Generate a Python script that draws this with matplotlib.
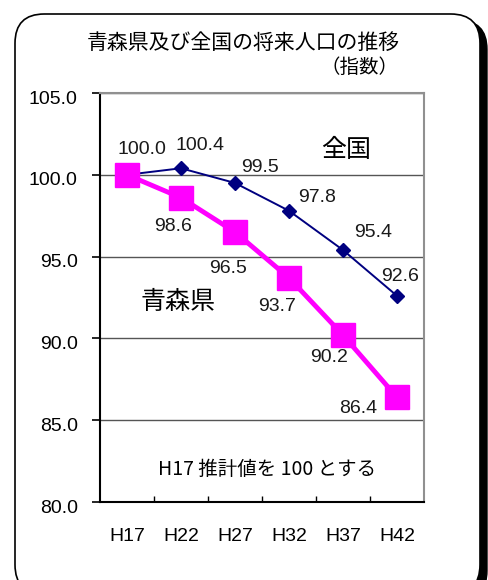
import matplotlib.pyplot as plt
from matplotlib.patches import FancyBboxPatch
from matplotlib.transforms import ScaledTranslation

plt.rcParams['font.family'] = ['Liberation Sans', 'Noto Sans CJK JP']
JP = ['Noto Sans CJK JP', 'Liberation Sans']

# データ
years = ['H17', 'H22', 'H27', 'H32', 'H37', 'H42']
zenkoku = [100.0, 100.4, 99.5, 97.8, 95.4, 92.6]
aomori = [100.0, 98.6, 96.5, 93.7, 90.2, 86.4]

# ラベル位置（ピクセル単位のずらし）
zenkoku_off = [(15, 25), (19, 23), (25, 15), (28, 13), (30, 18), (3, 19)]
aomori_off = [None, (-8, -29), (-7, -36), (-12, -29), (-14, -22), (-39, -11)]

fig = plt.figure(figsize=(4.88, 5.8), dpi=100)

# 角丸の枠と影
W, H = 488, 580
shadow = FancyBboxPatch((22 / W, -20 / H), 465 / W, 580 / H,
                        boxstyle='round,pad=0,rounding_size=0.06',
                        transform=fig.transFigure, facecolor='black',
                        edgecolor='black', zorder=-2, mutation_aspect=W / H)
box = FancyBboxPatch((15 / W, -14 / H), 465 / W, 580 / H,
                     boxstyle='round,pad=0,rounding_size=0.06',
                     transform=fig.transFigure, facecolor='white',
                     edgecolor='black', linewidth=1.2, zorder=-1,
                     mutation_aspect=W / H)
fig.patches.extend([shadow, box])

ax = fig.add_axes([100 / W, 1 - 502 / H, 324 / W, 409 / H])
ax.set_zorder(2)
ax.set_facecolor('none')
x = list(range(len(years)))

ax.plot(x, zenkoku, color='#000080', linewidth=1.4, marker='D',
        markersize=7, zorder=3)
ax.plot(x, aomori, color='#FF00FF', linewidth=3.5, marker='s',
        markersize=17, zorder=4)

for i, v in enumerate(zenkoku):
    ax.annotate(f'{v:.1f}', (i, v), xytext=zenkoku_off[i],
                textcoords='offset pixels', ha='center', va='center',
                fontsize=14, color='#1a1a1a')
for i, v in enumerate(aomori):
    if aomori_off[i] is None:
        continue
    ax.annotate(f'{v:.1f}', (i, v), xytext=aomori_off[i],
                textcoords='offset pixels', ha='center', va='center',
                fontsize=14, color='#1a1a1a')

ax.set_xlim(-0.5, 5.5)
ax.set_ylim(80, 105)
ax.set_xticks(x)
ax.set_xticklabels(years)
ax.set_xticks([0.5, 1.5, 2.5, 3.5, 4.5], minor=True)
ax.tick_params(axis='x', which='major', length=0, pad=19, labelsize=14)
ax.tick_params(axis='x', which='minor', direction='in', length=4,
               width=1, color='black')
ax.set_yticks([80, 85, 90, 95, 100, 105])
ax.set_yticklabels([f'{v:.1f}' for v in [80, 85, 90, 95, 100, 105]])
ax.tick_params(axis='y', direction='out', length=6, width=1.2,
               pad=10, labelsize=14)
shift = ScaledTranslation(0, -4 / 100, fig.dpi_scale_trans)
for lbl in ax.get_yticklabels():
    lbl.set_transform(lbl.get_transform() + shift)
ax.grid(axis='y', color='#555555', linewidth=1.0, zorder=1)
ax.set_axisbelow(True)

for s in ['left', 'bottom']:
    ax.spines[s].set_color('black')
    ax.spines[s].set_linewidth(1.5)
for s in ['top', 'right']:
    ax.spines[s].set_color('#909090')
    ax.spines[s].set_linewidth(1.5)

# 文字
fig.text(243 / W, 1 - 43 / H, '青森県及び全国の将来人口の推移', family=JP,
         fontsize=15, ha='center', va='center')
fig.text(360 / W, 1 - 67 / H, '（指数）', family=JP,
         fontsize=14, ha='center', va='center')
fig.text(346 / W, 1 - 150 / H, '全国', family=JP,
         fontsize=18, ha='center', va='center')
fig.text(178 / W, 1 - 302 / H, '青森県', family=JP,
         fontsize=18, ha='center', va='center')
fig.text(267 / W, 1 - 469 / H, 'H17 推計値を 100 とする', family=JP,
         fontsize=14, ha='center', va='center')

fig.savefig('out.png', dpi=100)
